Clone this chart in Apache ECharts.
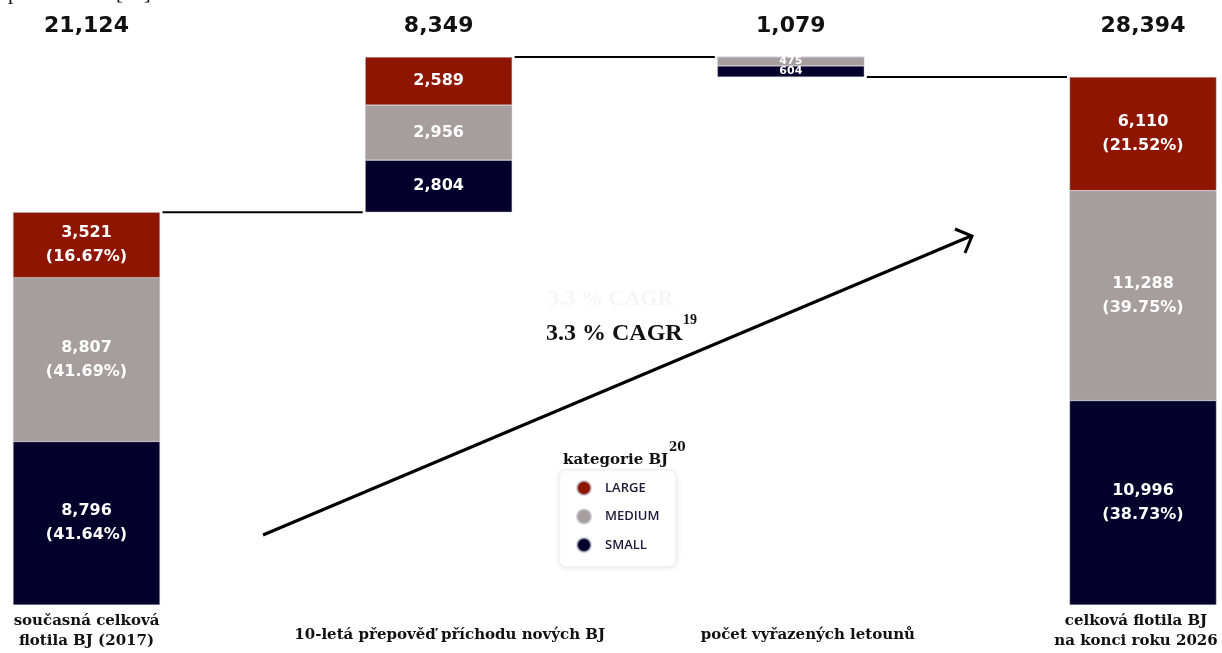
<!DOCTYPE html>
<html>
<head>
<meta charset="utf-8">
<script src="https://cdn.jsdelivr.net/npm/echarts@6/dist/echarts.min.js"></script>
<style>
  html, body { margin: 0; padding: 0; background: #fff; }
  #chart { width: 1222px; height: 653px; }
</style>
</head>
<body>
<div id="chart"></div>
<script>
// Fleet waterfall: 2017 fleet, 10-year deliveries, retirements, 2026 fleet
const categories = [
  'současná celková\nflotila BJ (2017)',
  '10-letá přepověď příchodu nových BJ',
  'počet vyřazených letounů',
  'celková flotila BJ\nna konci roku 2026'
];
const stepKinds = ['total', 'up', 'down', 'total'];
const smallJets = [8796, 2804, 604, 10996];
const mediumJets = [8807, 2956, 475, 11288];
const largeJets = [3521, 2589, 0, 6110];
const seriesNames = ['SMALL', 'MEDIUM', 'LARGE'];
const seriesColors = ['#03002b', '#a69d9d', '#8e1500'];

const BAR_WIDTH = 147;

// column sums and the invisible base under each floating column
const columnTotals = categories.map((_, i) => smallJets[i] + mediumJets[i] + largeJets[i]);
const bases = [];
const levels = []; // running level after each step
let level = 0;
stepKinds.forEach((k, i) => {
  if (k === 'total') { bases.push(0); level = columnTotals[i]; }
  else if (k === 'up') { bases.push(level); level += columnTotals[i]; }
  else { level -= columnTotals[i]; bases.push(level); }
  levels.push(level);
});
const peak = Math.max(...bases.map((b, i) => b + columnTotals[i]));

const fmt = v => v.toLocaleString('en-US');

// connector levels between neighbouring columns: [left column index, value]
const connectorData = [[0, levels[0]], [1, peak], [2, levels[2]]];

// per-label nudges for the category captions
const captionPadding = [null, [14, 0, 0, 22], [14, 0, 0, 34], [0, 14, 0, 0]];

function segmentSeries(name, values, color) {
  return {
    name: name,
    type: 'bar',
    stack: 'fleet',
    barWidth: BAR_WIDTH,
    clip: false,
    z: 3,
    itemStyle: { color: color, borderColor: 'rgba(190,190,205,0.7)', borderWidth: 0.6 },
    label: {
      show: true,
      position: 'inside',
      color: '#fff',
      fontFamily: 'DejaVu Sans',
      fontWeight: 'bold',
      fontSize: 16,
      lineHeight: 24,
      formatter: p => {
        const v = values[p.dataIndex];
        if (!v) return '';
        if (stepKinds[p.dataIndex] === 'total') {
          const pct = (v / columnTotals[p.dataIndex] * 100).toFixed(2);
          return fmt(v) + '\n(' + pct + '%)';
        }
        return fmt(v);
      }
    },
    data: values.map((v, i) => stepKinds[i] === 'down'
      ? { value: v, label: { fontSize: 11, lineHeight: 11 } }
      : v)
  };
}

const chart = echarts.init(document.getElementById('chart'));
chart.setOption({
  animation: false,
  backgroundColor: '#fff',
  grid: { left: 86.5, right: 79, top: 57, bottom: 48, containLabel: false, outerBoundsMode: 'none' },
  xAxis: [
    {
      type: 'category',
      boundaryGap: false,
      data: categories.map((c, i) => captionPadding[i]
        ? { value: c, textStyle: { padding: captionPadding[i] } }
        : c),
      axisLine: { show: false },
      axisTick: { show: false },
      axisLabel: {
        interval: 0,
        hideOverlap: false,
        margin: 6,
        color: '#111',
        fontFamily: 'DejaVu Serif',
        fontWeight: 'bold',
        fontSize: 15,
        lineHeight: 20
      }
    },
    {
      type: 'category',
      position: 'top',
      boundaryGap: false,
      data: columnTotals.map(fmt),
      axisLine: { show: false },
      axisTick: { show: false },
      axisLabel: {
        interval: 0,
        margin: 20,
        color: '#111',
        fontFamily: 'DejaVu Sans',
        fontWeight: 'bold',
        fontSize: 22
      }
    }
  ],
  yAxis: { type: 'value', min: 0, max: peak, show: false, splitLine: { show: false } },
  legend: {
    data: ['LARGE', 'MEDIUM', 'SMALL'],
    orient: 'vertical',
    left: 559,
    top: 470,
    icon: 'circle',
    itemWidth: 32,
    itemHeight: 14,
    itemGap: 12.5,
    padding: [10, 17, 14, 17],
    backgroundColor: '#fff',
    borderColor: '#ececec',
    borderWidth: 1,
    borderRadius: 7,
    shadowBlur: 6,
    shadowColor: 'rgba(0,0,0,0.08)',
    shadowOffsetY: 1,
    textStyle: { color: '#1c1c3a', fontFamily: 'Open Sans', fontWeight: 600, fontSize: 13 }
  },
  series: [
    {
      name: 'base',
      type: 'bar',
      stack: 'fleet',
      barWidth: BAR_WIDTH,
      clip: false,
      z: 3,
      itemStyle: { color: 'transparent' },
      data: bases
    },
    segmentSeries(seriesNames[0], smallJets, seriesColors[0]),
    segmentSeries(seriesNames[1], mediumJets, seriesColors[1]),
    segmentSeries(seriesNames[2], largeJets, seriesColors[2]),
    {
      // horizontal connectors from one column's edge to the next column's edge
      name: 'connectors',
      type: 'custom',
      z: 1,
      clip: false,
      silent: true,
      encode: { x: 0, y: 1 },
      renderItem: (params, api) => {
        const i = api.value(0);
        const v = api.value(1);
        const a = api.coord([i, v]);
        const b = api.coord([i + 1, v]);
        const half = BAR_WIDTH / 2 + 2.5;
        return {
          type: 'line',
          shape: { x1: a[0] + half, y1: a[1], x2: b[0] - half, y2: b[1] },
          style: { stroke: '#000', lineWidth: 2 }
        };
      },
      data: connectorData
    }
  ],
  graphic: [
    {
      type: 'text', left: 8, top: -17,
      style: { text: 'pomocí cen. [48]', font: '21px "Liberation Serif"', fill: '#111' }
    },
    {
      type: 'text', left: 548, top: 288,
      style: { text: '3.3 % CAGR', font: 'bold 22px "Liberation Serif"', fill: '#f5f5f5' }
    },
    {
      type: 'text', left: 546, top: 322,
      style: { text: '3.3 % CAGR', font: 'bold 24px "Liberation Serif"', fill: '#111' }
    },
    {
      type: 'text', left: 683, top: 313,
      style: { text: '19', font: 'bold 14px "Liberation Serif"', fill: '#111' }
    },
    {
      type: 'line',
      shape: { x1: 263, y1: 535, x2: 971, y2: 236 },
      style: { stroke: '#000', lineWidth: 3 }
    },
    {
      type: 'polyline',
      shape: { points: [[955, 229], [972, 236], [965, 253]] },
      style: { stroke: '#000', lineWidth: 3, fill: null }
    },
    {
      type: 'text', left: 563, top: 453, z: 200,
      style: { text: 'kategorie BJ', font: 'bold 15px "DejaVu Serif"', fill: '#111', backgroundColor: '#fff' }
    },
    {
      type: 'text', left: 669, top: 442, z: 200,
      style: { text: '20', font: 'bold 12px "DejaVu Serif"', fill: '#111' }
    }
  ]
});
</script>
</body>
</html>
